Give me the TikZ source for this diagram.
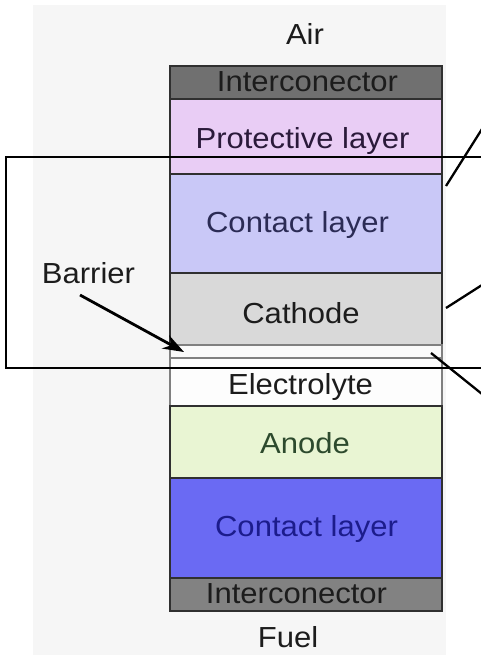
\documentclass[tikz,border=0pt]{standalone}
\usepackage{fontspec}
\setmainfont{Liberation Sans}
\usetikzlibrary{arrows.meta}
\definecolor{bggray}{HTML}{F6F6F6}
\definecolor{ictopc}{HTML}{707070}
\definecolor{icbotc}{HTML}{828282}
\definecolor{protc}{HTML}{E9CDF5}
\definecolor{contac}{HTML}{C9C8F7}
\definecolor{cathc}{HTML}{D9D9D9}
\definecolor{barrc}{HTML}{FAFAFA}
\definecolor{elecc}{HTML}{FDFDFD}
\definecolor{anodec}{HTML}{E9F5D3}
\definecolor{contfc}{HTML}{6A6AF3}
\definecolor{edgec}{HTML}{303030}
\definecolor{txtc}{HTML}{1C1C1C}
\definecolor{txtcont}{HTML}{2B2B55}
\definecolor{txtanode}{HTML}{2D4A2D}
\definecolor{txtcontf}{HTML}{1C1C8C}
\definecolor{txtprot}{HTML}{2A1A3A}
\newcommand{\wide}[1]{\scalebox{1.07}[1]{#1}}
\tikzset{
  layer/.style={rectangle, draw=edgec, line width=1.9pt, minimum width=272pt, inner sep=0pt, outer sep=0pt},
  lbl/.style={anchor=base, inner sep=0pt, text=txtc, font=\fontsize{29}{34}\selectfont},
  callout/.style={draw=black, line width=2.3pt},
  framebox/.style={draw=black, line width=2.6pt},
  pointer/.style={draw=black, line width=2.8pt, -{Stealth[length=21pt,width=15pt]}}
}
\begin{document}
\begin{tikzpicture}[x=1pt,y=-1pt]
\useasboundingbox (0,0) rectangle (480,655);
\fill[white] (0,0) rectangle (480,655);
\fill[bggray] (33,5) rectangle (446,655);

% layers
\node[layer, fill=ictopc, minimum height=33pt] (ictop) at (306,82.5) {};
\node[layer, fill=protc, minimum height=75pt] (prot) at (306,136.5) {};
\node[layer, fill=contac, minimum height=99pt] (conta) at (306,223.5) {};
\node[layer, fill=cathc, minimum height=72pt] (cath) at (306,309) {};
\node[layer, fill=barrc, draw=gray, minimum height=13pt] (barr) at (306,351.5) {};
\node[layer, fill=elecc, draw=gray, minimum height=48pt] (elec) at (306,382) {};
\node[layer, fill=anodec, minimum height=72pt] (anode) at (306,442) {};
\node[layer, fill=contfc, minimum height=100pt] (contf) at (306,528) {};
\node[layer, fill=icbotc, minimum height=33pt] (icbot) at (306,594.5) {};

% labels
\node[lbl] (tair) at (305,45) {\wide{Air}};
\node[lbl] (tictop) at (307.5,92) {\wide{Interconector}};
\node[lbl, text=txtprot] (tprot) at (302.5,149) {\wide{Protective layer}};
\node[lbl, text=txtcont] (tconta) at (297.5,232) {\wide{Contact layer}};
\node[lbl] (tbarr) at (88.5,283) {\wide{Barrier}};
\node[lbl] (tcath) at (301,323) {\wide{Cathode}};
\node[lbl] (telec) at (300.5,394) {\wide{Electrolyte}};
\node[lbl, text=txtanode] (tanode) at (305,453) {\wide{Anode}};
\node[lbl, text=txtcontf] (tcontf) at (306.5,536) {\wide{Contact layer}};
\node[lbl] (ticbot) at (296.5,603) {\wide{Interconector}};
\node[lbl] (tfuel) at (288,647) {\wide{Fuel}};

% frame
\draw[framebox] (482,157) -| (6,368) -- (482,368);

% barrier pointer
\coordinate (barrstart) at (80,295);
\coordinate (barrtip) at (184,352);
\draw[pointer] (barrstart) -- (barrtip);

% callout lines
\coordinate (c1a) at (446,186);
\coordinate (c1b) at (482,129);
\coordinate (c2a) at (446,308);
\coordinate (c2b) at (482,285);
\coordinate (c3a) at (431,353);
\coordinate (c3b) at (482,394);
\draw[callout] (c1a) -- (c1b);
\draw[callout] (c2a) -- (c2b);
\draw[callout] (c3a) -- (c3b);
\end{tikzpicture}
\end{document}
